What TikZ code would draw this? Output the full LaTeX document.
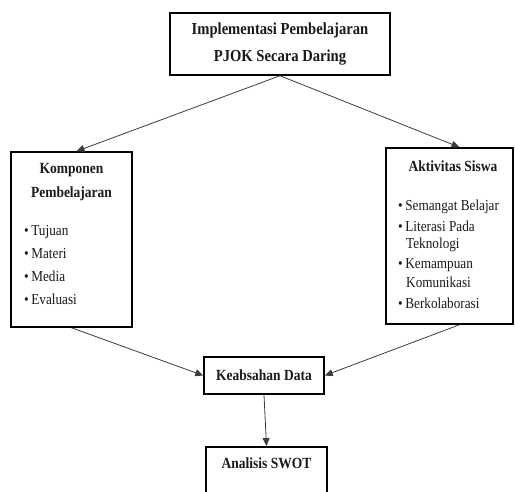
\documentclass[tikz,border=0pt]{standalone}
\usepackage{fontspec}
\setmainfont{Liberation Serif}[FakeStretch=0.87]
\usepackage{tikz}
\usetikzlibrary{arrows.meta,positioning}
\definecolor{ink}{HTML}{1A1A1A}
\definecolor{wire}{HTML}{3C3C3C}
\tikzset{
  framebox/.style={
    rectangle, draw=black, line width=1.5pt, fill=white,
    inner sep=0pt
  },
  headtext/.style={
    font=\fontsize{15.5}{18}\selectfont\bfseries, color=ink, inner sep=0pt
  },
  itemtext/.style={
    font=\fontsize{15.2}{17}\selectfont, color=ink, inner sep=0pt,
    anchor=base west
  },
  flowarrow/.style={
    -{Triangle[length=8pt,width=7pt]}, line width=0.8pt, color=wire
  },
}
\begin{document}
\begin{tikzpicture}[x=1pt,y=-1pt]
  \useasboundingbox (0,0) rectangle (515,491);
  \clip (0,0) rectangle (515,491);

  % Boxes
  \node[framebox, minimum width=220pt, minimum height=62pt,
        font=\fontsize{16.8}{27}\selectfont\bfseries, align=center,
        text=ink] (impl) at (280,44)
        {Implementasi Pembelajaran\\PJOK Secara Daring};
  \node[framebox, minimum width=121pt, minimum height=175pt] (komp) at (71.5,239.5) {};
  \node[framebox, minimum width=127pt, minimum height=176pt] (aktiv) at (449.5,236) {};
  \node[framebox, minimum width=120pt, minimum height=37pt] (keab) at (264,375.5) {};
  \node[framebox, minimum width=121pt, minimum height=60pt, anchor=north] (swot) at (266.5,446) {};

  % Titles
  \node[headtext, anchor=base] (kompA) at (71.5,173) {Komponen};
  \node[headtext, anchor=base] (kompB) at (71.5,197) {Pembelajaran};
  \node[headtext, anchor=base] (aktivA) at (453,171) {Aktivitas Siswa};
  \node[headtext, anchor=base] (keabA) at (264,380) {Keabsahan Data};
  \node[headtext, anchor=base] (swotA) at (266.5,468) {Analisis SWOT};

  % Lists
  \foreach \y/\t [count=\i] in {235/Tujuan, 258/Materi, 281/Media, 304/Evaluasi}
    \node[itemtext] (kompI\i) at (24,\y) {\textbullet\,\t};
  \foreach \y/\t [count=\i] in {210/Semangat Belajar, 231/Literasi Pada,
                                268/Kemampuan, 308/Berkolaborasi}
    \node[itemtext] (aktivI\i) at (398,\y) {\textbullet\,\t};
  \node[itemtext] (aktivC1) at (406,248) {Teknologi};
  \node[itemtext] (aktivC2) at (406,287) {Komunikasi};

  % Arrows
  \draw[flowarrow] (impl.south) -- ([xshift=5pt]komp.north);
  \draw[flowarrow] (impl.south) -- ([xshift=10pt]aktiv.north);
  \draw[flowarrow] (komp.south) -- (keab.west);
  \draw[flowarrow] ([xshift=10pt]aktiv.south) -- (keab.east);
  \draw[flowarrow] (keab.south) -- (swot.north);
\end{tikzpicture}
\end{document}
